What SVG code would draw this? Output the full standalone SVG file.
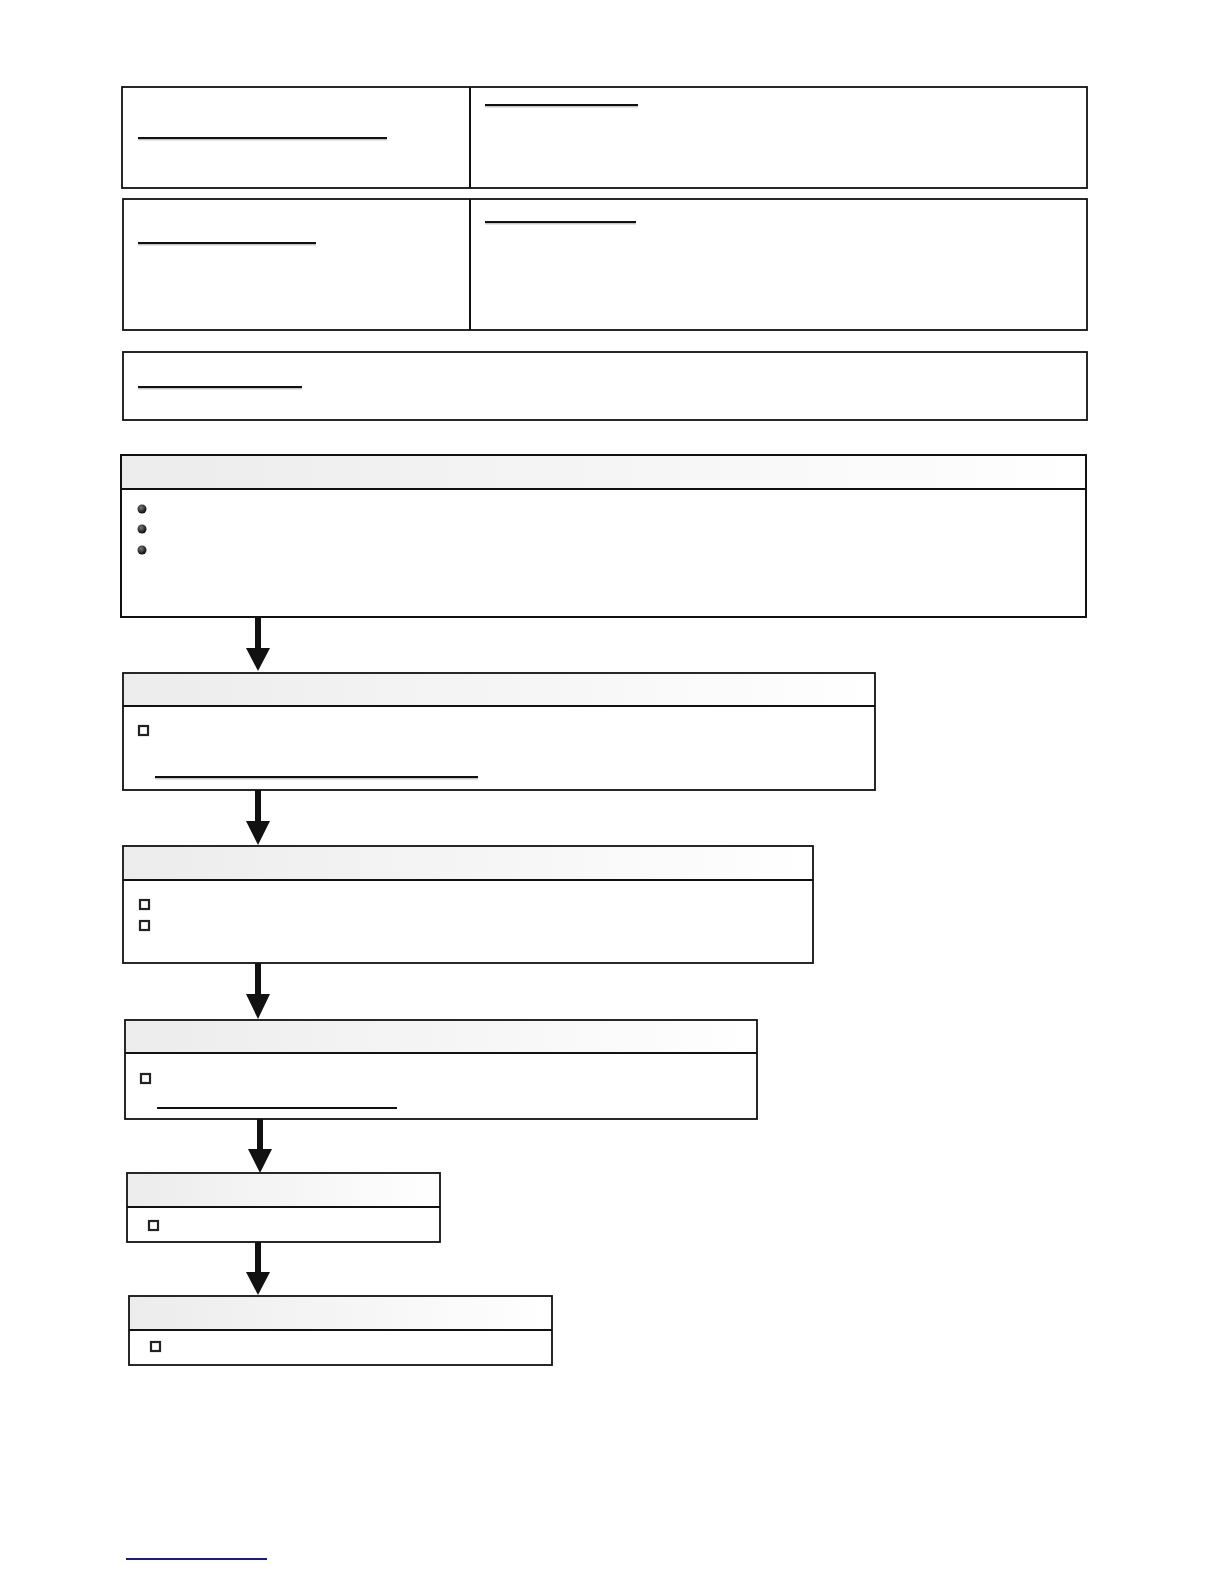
<svg xmlns="http://www.w3.org/2000/svg" width="1224" height="1584" viewBox="0 0 1224 1584">
<style>
.box{fill:#fff;stroke:#111;stroke-width:1.8}
.cell{fill:none;stroke:#111;stroke-width:2}
.hdr{stroke:#111;stroke-width:1.8}
.hl{stroke:#111;stroke-width:2.2}
.ul{stroke:#111;stroke-width:1.8}
.uls{stroke:#aaa;stroke-width:1}
.chk{fill:#fff;stroke:#222;stroke-width:2.2}
.shaft{stroke:#111;stroke-width:6}
.head{fill:#111}
</style>
<defs>
<linearGradient id="hg" x1="0" y1="0" x2="1" y2="0">
<stop offset="0" stop-color="#ececec"/>
<stop offset="0.6" stop-color="#f7f7f7"/>
<stop offset="1" stop-color="#ffffff"/>
</linearGradient>
<radialGradient id="bg" cx="0.4" cy="0.35" r="0.6">
<stop offset="0" stop-color="#777"/>
<stop offset="1" stop-color="#111"/>
</radialGradient>
</defs>

<g id="box-a">
<rect class="box" x="122" y="87" width="965" height="101"/>
<line class="cell" x1="470" y1="87" x2="470" y2="188"/>
<line class="ul" x1="138" y1="138" x2="387" y2="138"/>
<line class="uls" x1="138" y1="139.8" x2="387" y2="139.8"/>
<line class="ul" x1="485" y1="105" x2="638" y2="105"/>
<line class="uls" x1="485" y1="106.8" x2="638" y2="106.8"/>
</g>

<g id="box-b">
<rect class="box" x="123" y="199" width="964" height="131"/>
<line class="cell" x1="470" y1="199" x2="470" y2="330"/>
<line class="ul" x1="138" y1="243" x2="316" y2="243"/>
<line class="uls" x1="138" y1="244.8" x2="316" y2="244.8"/>
<line class="ul" x1="485" y1="222" x2="636" y2="222"/>
<line class="uls" x1="485" y1="223.8" x2="636" y2="223.8"/>
</g>

<g id="box-c">
<rect class="box" x="123" y="352" width="964" height="68"/>
<line class="ul" x1="138" y1="387" x2="302" y2="387"/>
<line class="uls" x1="138" y1="388.8" x2="302" y2="388.8"/>
</g>

<g id="box-d">
<rect class="box" x="121" y="455" width="965" height="162"/>
<rect x="122" y="456" width="963" height="33" fill="url(#hg)"/>
<line class="hl" x1="121" y1="489" x2="1086" y2="489"/>
<rect class="box" x="121" y="455" width="965" height="162" style="fill:none;stroke-width:2"/>
<circle cx="142" cy="509" r="4.5" fill="url(#bg)"/>
<circle cx="142" cy="529" r="4.5" fill="url(#bg)"/>
<circle cx="142" cy="550" r="4.5" fill="url(#bg)"/>
</g>

<g id="box-e">
<rect class="box" x="123" y="673" width="752" height="117"/>
<rect x="124" y="674" width="750" height="32" fill="url(#hg)"/>
<line class="hdr" x1="123" y1="706" x2="875" y2="706"/>
<rect class="chk" x="139" y="726" width="9" height="9"/>
<line class="ul" x1="155" y1="777" x2="478" y2="777"/>
<line class="uls" x1="155" y1="778.8" x2="478" y2="778.8"/>
</g>

<g id="box-f">
<rect class="box" x="123" y="846" width="690" height="117"/>
<rect x="124" y="847" width="688" height="33" fill="url(#hg)"/>
<line class="hl" x1="123" y1="880" x2="813" y2="880"/>
<rect class="chk" x="140" y="900" width="9" height="9"/>
<rect class="chk" x="140" y="921" width="9" height="9"/>
</g>

<g id="box-g">
<rect class="box" x="125" y="1020" width="632" height="99"/>
<rect x="126" y="1021" width="630" height="32" fill="url(#hg)"/>
<line class="hdr" x1="125" y1="1053" x2="757" y2="1053"/>
<rect class="chk" x="141" y="1074" width="9" height="9"/>
<line class="ul" x1="157" y1="1108" x2="397" y2="1108"/>
</g>

<g id="box-h">
<rect class="box" x="127" y="1173" width="313" height="69"/>
<rect x="128" y="1174" width="311" height="33" fill="url(#hg)"/>
<line class="hl" x1="127" y1="1207" x2="440" y2="1207"/>
<rect class="chk" x="149" y="1221" width="9" height="9"/>
</g>

<g id="box-i">
<rect class="box" x="129" y="1296" width="423" height="69"/>
<rect x="130" y="1297" width="421" height="33" fill="url(#hg)"/>
<line class="hdr" x1="129" y1="1330" x2="552" y2="1330"/>
<rect class="chk" x="151" y="1342" width="9" height="9"/>
</g>

<g id="connectors">
<line class="shaft" x1="258" y1="617" x2="258" y2="650"/>
<polygon class="head" points="246,648 270,648 258,671"/>
<line class="shaft" x1="258" y1="790" x2="258" y2="823"/>
<polygon class="head" points="246,821 270,821 258,845"/>
<line class="shaft" x1="258" y1="963" x2="258" y2="996"/>
<polygon class="head" points="246,994 270,994 258,1019"/>
<line class="shaft" x1="260" y1="1119" x2="260" y2="1151"/>
<polygon class="head" points="248,1149 272,1149 260,1173"/>
<line class="shaft" x1="258" y1="1242" x2="258" y2="1274"/>
<polygon class="head" points="246,1272 270,1272 258,1295"/>
</g>

<line x1="126" y1="1559" x2="267" y2="1559" stroke="#1a1a8c" stroke-width="1.8"/>
</svg>
